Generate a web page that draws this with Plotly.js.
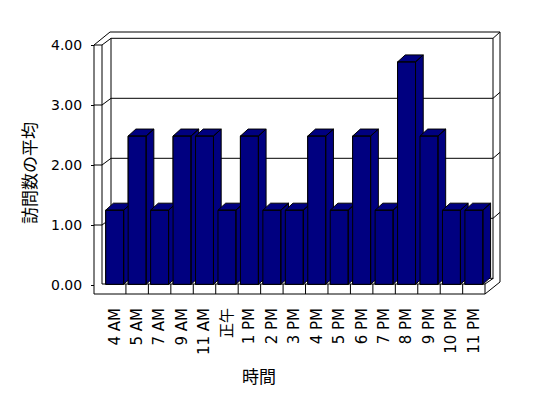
<!DOCTYPE html>
<html>
<head>
<meta charset="utf-8">
<script src="https://cdn.plot.ly/plotly-3.0.1.min.js"></script>
<style>html,body{margin:0;padding:0;background:#fff;}#chart{width:548px;height:398px;}</style>
</head>
<body>
<div id="chart"></div>
<script>
// ---- data ----
const categories = ['4 AM','5 AM','7 AM','9 AM','11 AM','正午','1 PM','2 PM','3 PM','4 PM','5 PM','6 PM','7 PM','8 PM','9 PM','10 PM','11 PM'];
const visits = [1.25, 2.5, 1.25, 2.5, 2.5, 1.25, 2.5, 1.25, 1.25, 2.5, 1.25, 2.5, 1.25, 3.75, 2.5, 1.25, 1.25];
const yTicks = [0, 1, 2, 3, 4];
const xTitle = '時間';
const yTitle = '訪問数の平均';

// ---- style / geometry ----
const NAVY = '#000080';
const FONT = 'DejaVu Sans, Noto Sans CJK JP, sans-serif';
const CJK = 'Noto Sans CJK JP, sans-serif';
const PL = 88, PR = 506, PT = 26, PB = 300;      // plot area in px
const PW = PR - PL, PH = PB - PT;
const CAT_PX = 22.45, CAT0_PX = 114.7;           // category spacing / first center
const VAL_PX = 59.3, ZERO_PX = 284.3;             // bar value scale
const BAR_W = 0.8, DX = 7.7 / CAT_PX, DY = 7 / VAL_PX; // bar depth in data units
const xRange = [(PL - CAT0_PX) / CAT_PX, (PR - CAT0_PX) / CAT_PX];
const yRange = [(ZERO_PX - PB) / VAL_PX, (ZERO_PX - PT) / VAL_PX];
const LBL_PX = 60, LBL_ZERO = 285;
const yLblRange = [(LBL_ZERO - PB) / LBL_PX, (LBL_ZERO - PT) / LBL_PX];
const px = x => (x - PL) / PW;
const py = y => (PB - y) / PH;
const yFront = v => LBL_ZERO - LBL_PX * v;
const yBack = v => 278.3 - 60 * v;

// ---- traces ----
const idx = categories.map((c, i) => i);
const traces = [{
  type: 'bar', x: idx, y: visits, width: BAR_W,
  marker: {color: NAVY, line: {color: '#000', width: 1}},
  hoverinfo: 'skip', showlegend: false
}, {
  // empty trace so the value-label axis (y2) gets drawn
  type: 'scatter', mode: 'none', x: [], y: [], yaxis: 'y2', hoverinfo: 'skip', showlegend: false
}];
visits.forEach((v, i) => {
  const xl = i - BAR_W / 2, xr = i + BAR_W / 2;
  const polys = [
    [[xr, 0], [xr + DX, DY], [xr + DX, v + DY], [xr, v], [xr, 0]],
    [[xl, v], [xr, v], [xr + DX, v + DY], [xl + DX, v + DY], [xl, v]],
    [[xl, 0], [xr, 0], [xr, v], [xl, v], [xl, 0]]
  ];
  const xs = [], ys = [];
  polys.forEach((p, k) => {
    if (k) { xs.push(null); ys.push(null); }
    p.forEach(pt => { xs.push(pt[0]); ys.push(pt[1]); });
  });
  traces.push({
    type: 'scatter', mode: 'lines', x: xs, y: ys, fill: 'toself',
    fillcolor: NAVY, line: {color: '#000', width: 1}, hoverinfo: 'skip', showlegend: false
  });
});

// ---- frame shapes (3D walls / floor) ----
const shapes = [];
function seg(x0, y0, x1, y1) {
  shapes.push({type: 'line', xref: 'paper', yref: 'paper', x0: px(x0), y0: py(y0), x1: px(x1), y1: py(y1),
    line: {color: '#000', width: 1}, layer: 'below'});
}
const topV = yTicks[yTicks.length - 1];
// left wall
seg(94, yFront(topV), 94, 294);
seg(102, yFront(topV), 102, 284);
seg(94, yFront(topV), 102, yFront(topV));
seg(94, yFront(topV), 110, 32);
seg(102, yFront(topV), 111, yBack(topV));
// back wall
seg(111, yBack(topV), 111, yBack(0));
seg(111, yBack(topV), 493, yBack(topV));
seg(110, 32, 500, 32);
seg(493, yBack(topV), 500, 32);
seg(493, yBack(topV), 493, 279);
seg(500, 32, 500, 282);
yTicks.slice(1, -1).forEach(v => {
  seg(94, yFront(v), 102, yFront(v));
  seg(102, yFront(v), 111, yBack(v));
  seg(111, yBack(v), 493, yBack(v));
  seg(493, yBack(v), 500, yBack(v) - 6);
});
// floor
seg(94, 294, 485, 294);
seg(102, 284, 485, 284);
seg(485, 284, 485, 294);
seg(485, 284, 493, 278.5);
seg(485, 294, 500, 282);
seg(111, yBack(0), 493, yBack(0));
idx.slice(1).forEach(i => {
  shapes.push({type: 'line', xref: 'x', yref: 'paper', x0: i - 0.5, x1: i - 0.5, y0: py(284), y1: py(294),
    line: {color: '#000', width: 1}, layer: 'below'});
});

const layout = {
  width: 548, height: 398,
  margin: {l: PL, r: 548 - PR, t: PT, b: 398 - PB, pad: 0},
  paper_bgcolor: '#fff', plot_bgcolor: 'rgba(0,0,0,0)',
  showlegend: false, hovermode: false,
  font: {family: FONT, size: 13, color: '#000'},
  xaxis: {range: xRange, tickmode: 'array', tickvals: idx, ticktext: categories, tickangle: -90,
    showgrid: false, zeroline: false, showline: false, ticks: '', fixedrange: true,
    tickfont: {family: FONT, size: 15, color: '#000'}, ticklabelstandoff: 4},
  yaxis: {range: yRange, visible: false, fixedrange: true},
  yaxis2: {overlaying: 'y', anchor: 'free', position: px(94), side: 'left', range: yLblRange,
    tickmode: 'array', tickvals: yTicks, tickformat: '.2f', ticks: 'outside', ticklen: 3, tickcolor: '#000',
    showgrid: false, zeroline: false, showline: false, fixedrange: true,
    tickfont: {family: FONT, size: 14, color: '#000'}, ticklabelstandoff: 6},
  shapes: shapes,
  annotations: [
    {text: xTitle, xref: 'paper', yref: 'paper', x: px(259), y: py(376), showarrow: false,
      xanchor: 'center', yanchor: 'middle', font: {family: CJK, size: 17, color: '#000'}},
    {text: yTitle, xref: 'paper', yref: 'paper', x: px(28), y: py(173), showarrow: false, textangle: -90,
      xanchor: 'center', yanchor: 'middle', font: {family: CJK, size: 17, color: '#000'}}
  ]
};

Plotly.newPlot('chart', traces, layout, {displayModeBar: false, staticPlot: true});
</script>
</body>
</html>
